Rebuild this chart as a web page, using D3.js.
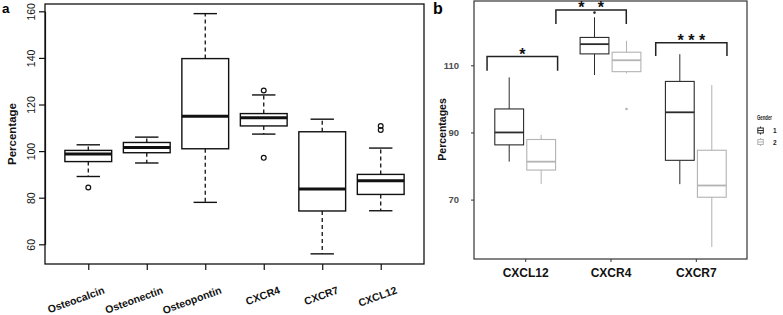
<!DOCTYPE html>
<html>
<head>
<meta charset="utf-8">
<script src="https://cdn.jsdelivr.net/npm/d3@7"></script>
<style>
  body { margin: 0; background: #fff; }
  svg { display: block; font-family: "Liberation Sans", Arial, sans-serif; }
</style>
</head>
<body>
<div class="figure"></div>
<script>
// panel a : [lower whisker, q1, median, q3, upper whisker]
const markersA = ["Osteocalcin", "Osteonectin", "Osteopontin", "CXCR4", "CXCR7", "CXCL12"]
const statsA = [
  [89.1, 95.5, 98.8, 100.3, 102.7],
  [94.9, 99.3, 101.5, 103.7, 106],
  [78, 101, 115, 139.7, 159],
  [107.3, 110.8, 114.3, 116.1, 124.1],
  [55.9, 74.3, 83.7, 108.3, 113.7],
  [74.4, 81.4, 87.3, 90, 101.3]
]
const outliersA = [[84.4], [], [], [126, 97.1], [], [110.8, 109.1]]
const ticksA = [60, 80, 100, 120, 140, 160]

// panel b : by gender
const genes = ["CXCL12", "CXCR4", "CXCR7"]
const genders = ["1", "2"]
const statsGender1 = [
  [81.3, 86.3, 90, 97, 106.4],
  [107.1, 113.4, 116.3, 118.3, 124.3],
  [74.6, 81.7, 96, 105.2, 113.3]
]
const statsGender2 = [
  [74.6, 78.8, 81.3, 87.9, 89.3],
  [107.6, 108.1, 111.5, 113.9, 117.3],
  [55.9, 70.7, 74.2, 84.7, 104.1]
]
const outliersGender1 = [[], [125.7], []]
const outliersGender2 = [[], [97], []]
const ticksB = [70, 90, 110]
// significance brackets: x in category units, heights in percentage units
const brackets = [
  {x0: 0.553, x1: 1.38, top: 112.6, foot: 108.4, label: "*"},
  {x0: 1.36, x1: 2.185, top: 126.5, foot: 122.3, label: "*   *"},
  {x0: 2.53, x1: 3.365, top: 116.7, foot: 112.8, label: "* * *"}
]

const svg = d3.select(".figure")
  .append("svg")
  .attr("width", 783)
  .attr("height", 315)

// ---------------- panel a ----------------
const a = {left: 45, right: 424, top: 4, bottom: 264}
const xA = d3.scaleLinear().domain([0.26, 6.74]).range([a.left, a.right])
const yA = d3.scaleLinear().domain([60, 160]).range([244.3, 11.3])
const ink = "#111"

const gA = svg.append("g")

gA.append("rect")
  .attr("x", a.left).attr("y", a.top)
  .attr("width", a.right - a.left).attr("height", a.bottom - a.top)
  .attr("fill", "none").attr("stroke", ink).attr("stroke-width", 1.3)

const yAxisA = gA.append("g")
  .attr("transform", `translate(${a.left},0)`)
  .call(d3.axisLeft(yA).tickValues(ticksA).tickSize(6).tickSizeOuter(0))
yAxisA.select(".domain").attr("stroke", ink).attr("stroke-width", 1.2)
yAxisA.selectAll(".tick line").attr("stroke", ink).attr("stroke-width", 1.2)
yAxisA.selectAll(".tick text")
  .attr("x", 0).attr("dy", 0)
  .attr("transform", "translate(-10,0) rotate(-90)")
  .attr("text-anchor", "middle")
  .attr("font-size", 10.5)
  .attr("fill", ink)
  .attr("font-family", "Liberation Sans, Arial, sans-serif")

const xAxisA = gA.append("g")
  .attr("transform", `translate(0,${a.bottom})`)
  .call(d3.axisBottom(xA).tickValues(d3.range(1, 7)).tickSize(6).tickSizeOuter(0))
xAxisA.select(".domain").remove()
xAxisA.selectAll(".tick line").attr("stroke", ink).attr("stroke-width", 1.2)
xAxisA.selectAll(".tick text").remove()

gA.selectAll(".xlabA")
  .data(markersA)
  .join("text")
  .attr("class", "xlabA")
  .attr("transform", (d, i) => `translate(${xA(i + 1) + 17},293) rotate(-20)`)
  .attr("text-anchor", "end")
  .attr("font-size", 10.5)
  .attr("font-weight", "bold")
  .attr("fill", ink)
  .text(d => d)

gA.append("text")
  .attr("transform", `translate(16,${(a.top + a.bottom) / 2}) rotate(-90)`)
  .attr("text-anchor", "middle")
  .attr("font-size", 11.5)
  .attr("font-weight", "bold")
  .attr("fill", ink)
  .text("Percentage")

gA.append("text")
  .attr("x", 2).attr("y", 12.5)
  .attr("font-size", 13.5)
  .attr("font-weight", "bold")
  .text("a")

const boxW = 0.8, capW = 0.4
const boxesA = gA.selectAll(".boxA")
  .data(statsA)
  .join("g")
  .attr("class", "boxA")

boxesA.each(function (s, i) {
  const g = d3.select(this)
  const c = i + 1
  // whiskers
  g.append("line")
    .attr("x1", xA(c)).attr("x2", xA(c))
    .attr("y1", yA(s[3])).attr("y2", yA(s[4]))
    .attr("stroke", ink).attr("stroke-width", 1.3).attr("stroke-dasharray", "4,3")
  g.append("line")
    .attr("x1", xA(c)).attr("x2", xA(c))
    .attr("y1", yA(s[1])).attr("y2", yA(s[0]))
    .attr("stroke", ink).attr("stroke-width", 1.3).attr("stroke-dasharray", "4,3")
  ;[s[0], s[4]].forEach(v => {
    g.append("line")
      .attr("x1", xA(c - capW / 2)).attr("x2", xA(c + capW / 2))
      .attr("y1", yA(v)).attr("y2", yA(v))
      .attr("stroke", ink).attr("stroke-width", 1.4)
  })
  g.append("rect")
    .attr("x", xA(c - boxW / 2)).attr("width", xA(c + boxW / 2) - xA(c - boxW / 2))
    .attr("y", yA(s[3])).attr("height", yA(s[1]) - yA(s[3]))
    .attr("fill", "#fff").attr("stroke", ink).attr("stroke-width", 1.4)
  g.append("line")
    .attr("x1", xA(c - boxW / 2)).attr("x2", xA(c + boxW / 2))
    .attr("y1", yA(s[2])).attr("y2", yA(s[2]))
    .attr("stroke", ink).attr("stroke-width", 3)
  g.selectAll("circle")
    .data(outliersA[i])
    .join("circle")
    .attr("cx", xA(c)).attr("cy", d => yA(d))
    .attr("r", 2.4)
    .attr("fill", "none").attr("stroke", ink).attr("stroke-width", 1.2)
})

// ---------------- panel b ----------------
const b = {left: 474, right: 747, top: 1, bottom: 259}
const xB = d3.scaleLinear().domain([0.4, 3.6]).range([b.left, b.right])
const yB = d3.scaleLinear().domain([70, 110]).range([199.6, 65.3])
const gender = d3.scaleOrdinal().domain(genders).range(["#2b2b2b", "#b3b3b3"])
const dodge = d3.scaleOrdinal().domain(genders).range([-0.1875, 0.1875])
const boxWB = 0.3375

const gB = svg.append("g")

gB.append("rect")
  .attr("x", b.left).attr("y", b.top)
  .attr("width", b.right - b.left).attr("height", b.bottom - b.top)
  .attr("fill", "none").attr("stroke", "#333").attr("stroke-width", 1.2)

const yAxisB = gB.append("g")
  .attr("transform", `translate(${b.left},0)`)
  .call(d3.axisLeft(yB).tickValues(ticksB).tickSize(3).tickPadding(4).tickSizeOuter(0))
yAxisB.select(".domain").remove()
yAxisB.selectAll(".tick line").attr("stroke", "#333")
yAxisB.selectAll(".tick text")
  .attr("font-size", 9.5).attr("font-weight", "bold").attr("fill", "#4d4d4d")
  .attr("font-family", "Liberation Sans, Arial, sans-serif")
  .attr("x", -15)

const xAxisB = gB.append("g")
  .attr("transform", `translate(0,${b.bottom})`)
  .call(d3.axisBottom(xB).tickValues([1, 2, 3]).tickSize(3).tickPadding(6).tickSizeOuter(0)
    .tickFormat((d, i) => genes[i]))
xAxisB.select(".domain").remove()
xAxisB.selectAll(".tick line").attr("stroke", "#333")
xAxisB.selectAll(".tick text")
  .attr("font-size", 12).attr("font-weight", "bold").attr("fill", "#111")
  .attr("font-family", "Liberation Sans, Arial, sans-serif")

gB.append("text")
  .attr("transform", `translate(446,${yB(90) - 3}) rotate(-90)`)
  .attr("text-anchor", "middle")
  .attr("font-size", 10.5)
  .attr("font-weight", "bold")
  .attr("fill", "#111")
  .text("Percentages")

gB.append("text")
  .attr("x", 433).attr("y", 14)
  .attr("font-size", 16)
  .attr("font-weight", "bold")
  .text("b")

const seriesB = [
  {key: "1", stats: statsGender1, out: outliersGender1},
  {key: "2", stats: statsGender2, out: outliersGender2}
]

seriesB.forEach(ser => {
  const col = gender(ser.key)
  ser.stats.forEach((s, i) => {
    const c = i + 1 + dodge(ser.key)
    const g = gB.append("g")
    g.append("line")
      .attr("x1", xB(c)).attr("x2", xB(c))
      .attr("y1", yB(s[0])).attr("y2", yB(s[4]))
      .attr("stroke", col).attr("stroke-width", 1)
    g.append("rect")
      .attr("x", xB(c - boxWB / 2)).attr("width", xB(c + boxWB / 2) - xB(c - boxWB / 2))
      .attr("y", yB(s[3])).attr("height", yB(s[1]) - yB(s[3]))
      .attr("fill", "#fff").attr("stroke", col).attr("stroke-width", 1.1)
    g.append("line")
      .attr("x1", xB(c - boxWB / 2)).attr("x2", xB(c + boxWB / 2))
      .attr("y1", yB(s[2])).attr("y2", yB(s[2]))
      .attr("stroke", col).attr("stroke-width", 1.8)
    g.selectAll("circle")
      .data(ser.out[i])
      .join("circle")
      .attr("cx", xB(c)).attr("cy", d => yB(d))
      .attr("r", 1.3)
      .attr("fill", col)
  })
})

const sig = gB.selectAll(".sig")
  .data(brackets)
  .join("g")
  .attr("class", "sig")

sig.append("path")
  .attr("d", d => `M${xB(d.x0)},${yB(d.foot)}V${yB(d.top)}H${xB(d.x1)}V${yB(d.foot)}`)
  .attr("fill", "none").attr("stroke", "#222").attr("stroke-width", 1.5)

sig.append("text")
  .attr("x", d => (xB(d.x0) + xB(d.x1)) / 2)
  .attr("y", d => yB(d.top) + 3)
  .attr("text-anchor", "middle")
  .attr("font-size", 16)
  .attr("font-weight", "bold")
  .style("white-space", "pre")
  .attr("fill", "#111")
  .text(d => d.label)

// legend
const leg = svg.append("g").attr("transform", "translate(757,0)")
leg.append("text")
  .attr("x", 0).attr("y", 119.5)
  .attr("font-size", 6.5).attr("font-weight", "bold").attr("fill", "#222")
  .attr("textLength", 15).attr("lengthAdjust", "spacingAndGlyphs")
  .text("Gender")

const keys = leg.selectAll(".key")
  .data(genders)
  .join("g")
  .attr("class", "key")
  .attr("transform", (d, i) => `translate(0,${130.5 + i * 11.5})`)

keys.append("line")
  .attr("x1", 3.5).attr("x2", 3.5).attr("y1", -4).attr("y2", 4)
  .attr("stroke", d => gender(d))
keys.append("rect")
  .attr("x", 0.8).attr("y", -2.5).attr("width", 5.5).attr("height", 5)
  .attr("fill", "#fff").attr("stroke", d => gender(d)).attr("stroke-width", 1)
keys.append("line")
  .attr("x1", 0.8).attr("x2", 6.3).attr("y1", 0).attr("y2", 0)
  .attr("stroke", d => gender(d)).attr("stroke-width", 1)
keys.append("text")
  .attr("x", 16).attr("y", 2.5)
  .attr("font-size", 6.5).attr("font-weight", "bold").attr("fill", "#222")
  .text(d => d)
</script>
</body>
</html>
